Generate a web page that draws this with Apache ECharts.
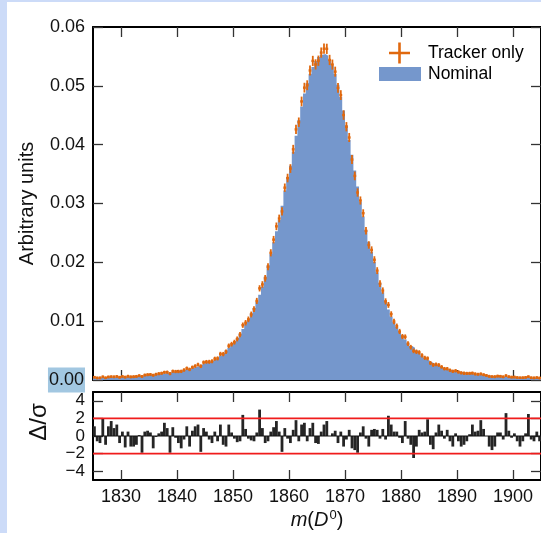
<!DOCTYPE html>
<html>
<head>
<meta charset="utf-8">
<script src="https://cdn.jsdelivr.net/npm/echarts@6/dist/echarts.min.js"></script>
<style>
html,body{margin:0;padding:0;background:#fff;}
#chart{width:541px;height:533px;}
</style>
</head>
<body>
<div id="chart"></div>
<script>
// ---------- data ----------
const binStart = 1825;
const binWidth = 0.5;
const xRange = [1825, 1905];
const xTickValues = [1830, 1840, 1850, 1860, 1870, 1880, 1890, 1900];
const yTickValues = [0, 0.01, 0.02, 0.03, 0.04, 0.05, 0.06];
const pullTickValues = [-4, -2, 0, 2, 4];
const pullRefs = [2, -2];

// Nominal histogram (arbitrary units per 0.5 bin)
const nominal = [
 .00040,.00039,.00041,.00042,.00043,.00045,.00046,.00048,.00051,.00053,
 .00056,.00058,.00060,.00063,.00066,.00069,.00072,.00076,.00080,.00085,
 .00089,.00094,.00099,.00104,.00110,.00116,.00123,.00130,.00138,.00146,
 .00155,.00164,.00174,.00185,.00196,.00208,.00222,.00240,.00262,.00285,
 .00300,.00316,.00333,.00352,.00378,.00418,.00460,.00505,.00552,.00600,
 .00650,.00715,.00788,.00865,.00950,.01040,.01130,.01225,.01330,.01450,
 .01590,.01760,.01950,.02140,.02340,.02530,.02720,.02960,.03220,.03450,
 .03640,.03880,.04150,.04420,.04650,.04870,.05050,.05200,.05320,.05420,
 .05490,.05530,.05540,.05510,.05440,.05340,.05200,.05020,.04810,.04580,
 .04330,.04080,.03830,.03560,.03290,.03030,.02780,.02550,.02350,.02180,
 .02010,.01830,.01650,.01490,.01350,.01200,.01080,.00980,.00900,.00830,
 .00760,.00690,.00625,.00580,.00550,.00505,.00455,.00410,.00368,.00335,
 .00305,.00280,.00258,.00235,.00214,.00196,.00182,.00172,.00162,.00152,
 .00143,.00134,.00126,.00118,.00111,.00104,.00098,.00092,.00087,.00082,
 .00077,.00073,.00070,.00066,.00063,.00060,.00057,.00055,.00052,.00050,
 .00048,.00046,.00045,.00043,.00042,.00041,.00040,.00039,.00038,.00038
];

// Tracker only (points with errors)
const tracker = [
 .00047,.00035,.00036,.00054,.00037,.00052,.00056,.00054,.00060,.00047,
 .00060,.00049,.00064,.00053,.00056,.00061,.00073,.00061,.00084,.00090,
 .00093,.00081,.00098,.00107,.00115,.00131,.00133,.00109,.00149,.00144,
 .00145,.00147,.00169,.00199,.00180,.00216,.00237,.00260,.00235,.00299,
 .00308,.00309,.00319,.00361,.00367,.00443,.00440,.00480,.00581,.00609,
 .00643,.00698,.00772,.00932,.00973,.01031,.01114,.01205,.01344,.01558,
 .01624,.01728,.01925,.02162,.02386,.02612,.02745,.02866,.03269,.03433,
 .03594,.03921,.04260,.04382,.04735,.04969,.05010,.05261,.05424,.05364,
 .05427,.05565,.05631,.05629,.05440,.05361,.05241,.04966,.04843,.04503,
 .04305,.04122,.03747,.03469,.03187,.03051,.02835,.02536,.02295,.02211,
 .02044,.01859,.01638,.01520,.01336,.01276,.01120,.00995,.00914,.00825,
 .00739,.00733,.00618,.00557,.00495,.00480,.00469,.00418,.00377,.00367,
 .00288,.00256,.00264,.00255,.00222,.00192,.00191,.00165,.00148,.00156,
 .00136,.00121,.00115,.00112,.00113,.00117,.00103,.00098,.00103,.00089,
 .00077,.00063,.00057,.00056,.00066,.00063,.00054,.00073,.00056,.00049,
 .00050,.00042,.00038,.00039,.00044,.00056,.00038,.00035,.00041,.00034
];

const trackerErr = [
 .00006,.00006,.00006,.00006,.00006,.00006,.00006,.00007,.00007,.00007,
 .00007,.00007,.00007,.00008,.00008,.00008,.00008,.00008,.00008,.00009,
 .00009,.00009,.00010,.00010,.00010,.00010,.00011,.00011,.00011,.00011,
 .00012,.00012,.00012,.00013,.00013,.00013,.00014,.00015,.00015,.00016,
 .00016,.00017,.00017,.00018,.00018,.00019,.00020,.00021,.00022,.00023,
 .00024,.00025,.00027,.00028,.00029,.00031,.00032,.00033,.00035,.00036,
 .00038,.00040,.00042,.00044,.00046,.00048,.00049,.00052,.00054,.00056,
 .00057,.00059,.00061,.00063,.00065,.00066,.00067,.00068,.00069,.00070,
 .00070,.00070,.00070,.00070,.00070,.00069,.00068,.00067,.00066,.00064,
 .00062,.00060,.00059,.00057,.00054,.00052,.00050,.00048,.00046,.00044,
 .00043,.00041,.00039,.00037,.00035,.00033,.00031,.00030,.00028,.00027,
 .00026,.00025,.00024,.00023,.00022,.00021,.00020,.00019,.00018,.00017,
 .00017,.00016,.00015,.00015,.00014,.00013,.00013,.00012,.00012,.00012,
 .00011,.00011,.00011,.00010,.00010,.00010,.00010,.00010,.00009,.00009,
 .00008,.00008,.00008,.00008,.00008,.00007,.00007,.00007,.00007,.00007,
 .00007,.00006,.00006,.00006,.00006,.00006,.00006,.00006,.00006,.00006
];

// Pulls Δ/σ
const pulls = [
 1.1,-0.6,-0.8,2.0,-1.0,1.1,1.7,0.9,1.3,-0.8,
 0.5,-1.3,0.5,-1.2,-1.2,-1.0,0.1,-1.9,0.5,0.6,
 0.4,-1.4,-0.1,0.3,0.5,1.5,0.9,-1.9,1.0,-0.2,
 -0.8,-1.4,-0.4,1.1,-1.2,0.6,1.1,1.3,-1.8,0.9,
 0.5,-0.4,-0.8,0.5,-0.6,1.3,-1.0,-1.2,1.3,0.4,
 -0.3,-0.7,-0.6,2.4,0.8,-0.3,-0.5,-0.6,0.4,3.0,
 0.9,-0.8,-0.6,0.5,1.0,1.7,0.5,-1.8,0.9,-0.3,
 -0.8,0.7,1.8,-0.6,1.3,1.5,-0.6,0.9,1.5,-0.8,
 -0.9,0.5,1.3,1.7,0.0,0.3,0.6,-0.8,0.5,-1.2,
 -0.4,0.7,-1.4,-1.6,-1.9,0.4,1.1,-0.3,-1.2,0.7,
 0.8,0.7,-0.3,0.8,-0.4,2.3,1.3,0.5,0.5,-0.2,
 -0.8,1.7,-0.3,-1.0,-2.5,-1.2,0.7,0.4,0.5,1.9,
 -1.0,-1.5,0.4,1.3,0.6,-0.3,0.7,-0.6,-1.2,0.3,
 -0.6,-1.2,-1.0,-0.6,0.2,1.3,0.5,0.6,1.8,0.8,
 0.0,-1.2,-1.6,-1.2,0.4,0.4,-0.4,2.6,0.6,-0.2,
 0.3,-0.6,-1.2,-0.6,0.3,2.5,-0.4,-0.6,0.5,-0.6
];

// ---------- build ----------
const FONT = 'Liberation Sans';
const BLUE = '#7597cc';
const ORANGE = '#e0680e';
const edges = nominal.map((_, i) => binStart + i * binWidth);

const nominalPts = [];
nominal.forEach((v, i) => { nominalPts.push([edges[i], v]); nominalPts.push([edges[i] + binWidth, v]); });
const trackerRows = tracker.map((v, i) => [edges[i], edges[i] + binWidth, v, trackerErr[i]]);
const pullRows = pulls.map((p, i) => [edges[i], edges[i] + binWidth, p]);

const frameLine = { show: true, onZero: false, lineStyle: { color: '#000', width: 2 } };
const tickStyle = { color: '#333', width: 1.3 };
const labelStyle = { fontFamily: FONT, fontSize: 18, color: '#111' };

function xAx(grid, pos, showLabels, extra) {
  return Object.assign({
    type: 'value', gridIndex: grid, position: pos, min: xRange[0], max: xRange[1],
    axisLine: frameLine,
    axisTick: { show: true, inside: true, length: 10, customValues: xTickValues, lineStyle: tickStyle },
    axisLabel: showLabels ? Object.assign({ show: true, margin: 8, customValues: xTickValues, formatter: v => String(v) }, labelStyle) : { show: false },
    splitLine: { show: false }
  }, extra || {});
}

const crossIcon = 'path://M0,9.2 H21 V11.8 H0 Z M9.2,0 H11.8 V21 H9.2 Z';
const legendText = { fontFamily: FONT, fontSize: 17.5, color: '#000' };

const option = {
  animation: false,
  backgroundColor: '#fff',
  graphic: [
    { type: 'rect', left: 0, top: 0, shape: { width: 7, height: 533 }, style: { fill: '#ccdbf8' }, z: -10, silent: true },
    { type: 'rect', left: 0, top: 0, shape: { width: 541, height: 2 }, style: { fill: '#ccdbf8' }, z: -10, silent: true }
  ],
  grid: [
    { left: 93, top: 27, width: 450, height: 353 },
    { left: 93, top: 392, width: 450, height: 88 }
  ],
  legend: [
    { data: [{ name: 'Tracker only', icon: crossIcon }], left: 389, top: 42.5, padding: 0, itemWidth: 21, itemHeight: 21,
      selectedMode: false, textStyle: Object.assign({ padding: [0, 0, 0, 13] }, legendText) },
    { data: [{ name: 'Nominal', icon: 'rect' }], left: 379, top: 65, padding: 0, itemWidth: 42, itemHeight: 14,
      selectedMode: false, textStyle: Object.assign({ padding: [0, 0, 0, 2] }, legendText) }
  ],
  xAxis: [
    xAx(0, 'bottom', false),
    xAx(0, 'top', false),
    xAx(1, 'bottom', true, {
      name: '{it|m}({it|D}{sup|0})', nameLocation: 'middle', nameGap: 29,
      nameTextStyle: { fontFamily: FONT, fontSize: 20, color: '#111',
        rich: { it: { fontFamily: FONT, fontSize: 20, fontStyle: 'italic', color: '#111' },
                sup: { fontFamily: FONT, fontSize: 13, verticalAlign: 'top', padding: [0, 0, 10, 1], color: '#111' } } }
    }),
    xAx(1, 'top', false)
  ],
  yAxis: [
    { type: 'value', gridIndex: 0, position: 'left', min: 0, max: 0.06, interval: 0.01,
      axisLine: frameLine,
      axisTick: { show: true, inside: true, length: 10, lineStyle: tickStyle },
      axisLabel: Object.assign({ margin: 8, customValues: yTickValues,
        formatter: v => Math.abs(v) < 1e-9 ? '{hl|0.00}' : v.toFixed(2),
        rich: { hl: { backgroundColor: '#a2c7e1', padding: [4, 1, 3, 1], fontFamily: FONT, fontSize: 18, color: '#111' } } }, labelStyle),
      splitLine: { show: false },
      name: 'Arbitrary units', nameLocation: 'middle', nameGap: 48,
      nameTextStyle: { fontFamily: FONT, fontSize: 20, color: '#111' } },
    { type: 'value', gridIndex: 0, position: 'right', min: 0, max: 0.06, interval: 0.01,
      axisLine: frameLine,
      axisTick: { show: true, inside: true, length: 10, lineStyle: tickStyle },
      axisLabel: { show: false }, splitLine: { show: false } },
    { type: 'value', gridIndex: 1, position: 'left', min: -5, max: 5,
      axisLine: frameLine,
      axisTick: { show: true, inside: true, length: 10, customValues: pullTickValues, lineStyle: tickStyle },
      axisLabel: Object.assign({ margin: 8, customValues: pullTickValues, hideOverlap: false,
        formatter: v => (v < 0 ? '\u2212' + Math.abs(v) : String(v)) }, labelStyle, { fontSize: 17, lineHeight: 14 }),
      splitLine: { show: false },
      name: '\u0394/\u03c3', nameLocation: 'middle', nameGap: 42,
      nameTextStyle: { fontFamily: FONT, fontSize: 24, color: '#111', padding: [0, 0, 0, 28] } },
    { type: 'value', gridIndex: 1, position: 'right', min: -5, max: 5,
      axisLine: frameLine,
      axisTick: { show: true, inside: true, length: 10, customValues: pullTickValues, lineStyle: tickStyle },
      axisLabel: { show: false }, splitLine: { show: false } }
  ],
  series: [
    { name: 'Nominal', type: 'line', xAxisIndex: 0, yAxisIndex: 0, data: nominalPts,
      color: BLUE, symbol: 'none', lineStyle: { width: 0 }, areaStyle: { color: BLUE, opacity: 1 },
      z: 1, silent: true },
    { name: 'Tracker only', type: 'custom', xAxisIndex: 0, yAxisIndex: 0, data: trackerRows,
      color: ORANGE, encode: { x: [0, 1], y: 2 }, z: 3, silent: true,
      renderItem: function (params, api) {
        const x0 = api.value(0), x1 = api.value(1), v = api.value(2), e = api.value(3);
        const pl = api.coord([x0, v]), pr = api.coord([x1, v]);
        const xc = (x0 + x1) / 2;
        const pt = api.coord([xc, v + e]), pb = api.coord([xc, v - e]);
        return { type: 'group', children: [
          { type: 'line', shape: { x1: pl[0], y1: pl[1], x2: pr[0], y2: pr[1] }, style: { stroke: ORANGE, lineWidth: 2.4 } },
          { type: 'line', shape: { x1: pt[0], y1: pt[1] - 1, x2: pb[0], y2: pb[1] + 1 }, style: { stroke: ORANGE, lineWidth: 1.8 } }
        ] };
      } },
    { name: 'pull', type: 'custom', xAxisIndex: 2, yAxisIndex: 2, data: pullRows,
      encode: { x: [0, 1], y: 2 }, z: 3, silent: true,
      renderItem: function (params, api) {
        const a = api.coord([api.value(0), 0]);
        const b = api.coord([api.value(1), api.value(2)]);
        return { type: 'rect', shape: { x: a[0], y: Math.min(a[1], b[1]), width: b[0] - a[0], height: Math.abs(b[1] - a[1]) },
          style: { fill: '#252525' } };
      } },
    { name: 'zero', type: 'line', xAxisIndex: 2, yAxisIndex: 2, data: [[xRange[0], 0], [xRange[1], 0]],
      symbol: 'none', lineStyle: { color: '#111', width: 1 }, z: 4, silent: true },
    ...pullRefs.map(r => ({ name: 'ref' + r, type: 'line', xAxisIndex: 2, yAxisIndex: 2,
      data: [[xRange[0], r], [xRange[1], r]], symbol: 'none',
      lineStyle: { color: '#f01c1c', width: 1.8 }, z: 5, silent: true }))
  ]
};

const chart = echarts.init(document.getElementById('chart'), null, { renderer: 'canvas' });
chart.setOption(option);
</script>
</body>
</html>
